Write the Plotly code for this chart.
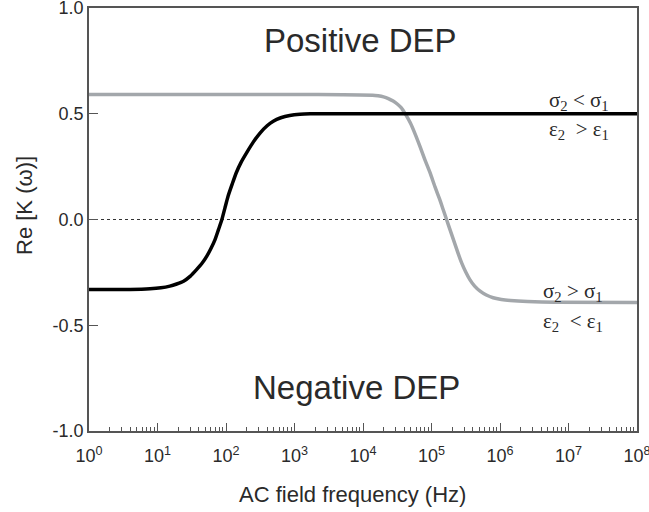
import plotly.graph_objects as go

# Log10(frequency / Hz) and Re[K(w)]
black_log_freq = [0.0, 0.6, 0.89, 1.05, 1.18, 1.28, 1.38, 1.48, 1.57, 1.65, 1.72, 1.78, 1.84, 1.89, 1.94,
                  1.985, 2.03, 2.09, 2.15, 2.22, 2.30, 2.40, 2.50, 2.60, 2.69, 2.80, 2.93, 3.08, 3.23, 4.0, 8.0]
black_re_k = [-0.331, -0.331, -0.328, -0.323, -0.315, -0.305, -0.292, -0.268, -0.237, -0.207, -0.173, -0.137,
              -0.095, -0.048, 0.0, 0.055, 0.110, 0.167, 0.221, 0.270, 0.315, 0.367, 0.410, 0.443, 0.465, 0.481,
              0.492, 0.498, 0.500, 0.500, 0.500]

gray_log_freq = [0.0, 2.0, 3.0, 3.7, 4.14, 4.22, 4.30, 4.37, 4.44, 4.50, 4.56, 4.62, 4.69, 4.76, 4.83, 4.90,
                 4.98, 5.05, 5.12, 5.17, 5.22, 5.27, 5.32, 5.38, 5.44, 5.50, 5.56, 5.63, 5.71, 5.80, 5.90, 6.02,
                 6.15, 6.4, 6.8, 8.0]
gray_re_k = [0.591, 0.591, 0.591, 0.590, 0.588, 0.585, 0.580, 0.572, 0.560, 0.546, 0.528, 0.498, 0.457, 0.405,
             0.347, 0.285, 0.220, 0.155, 0.095, 0.047, 0.0, -0.048, -0.095, -0.152, -0.205, -0.248, -0.284,
             -0.315, -0.339, -0.357, -0.370, -0.378, -0.383, -0.388, -0.391, -0.392]

x_tick_exponents = [0, 1, 2, 3, 4, 5, 6, 7, 8]
y_tick_vals = [1.0, 0.5, 0.0, -0.5, -1.0]
y_tick_text = ["1.0", "0.5", "0.0", "-0.5", "-1.0"]

black_freq = [10 ** e for e in black_log_freq]
gray_freq = [10 ** e for e in gray_log_freq]
x_tick_vals = [10 ** e for e in x_tick_exponents]
x_tick_text = ["10<sup>%d</sup>" % e for e in x_tick_exponents]
minor_vals = [k * 10 ** n for n in range(8) for k in range(2, 10)]

W, H = 649, 512
L, R, T, B = 89, 12, 8, 81
AX = "#555555"
TXT = "#2a2a2a"
FONT = "Liberation Sans"
SERIF = "Liberation Serif"

fig = go.Figure()
fig.add_trace(go.Scatter(x=[1, 1e8], y=[0, 0], mode="lines",
                         line=dict(color="#333333", width=1, dash="dot"),
                         hoverinfo="skip", showlegend=False))
fig.add_trace(go.Scatter(x=gray_freq, y=gray_re_k, mode="lines",
                         line=dict(color="#a3a7ab", width=3.5, shape="spline", smoothing=0.5),
                         showlegend=False))
fig.add_trace(go.Scatter(x=black_freq, y=black_re_k, mode="lines",
                         line=dict(color="#000000", width=3.5, shape="spline", smoothing=0.5),
                         showlegend=False))

fig.update_layout(
    width=W, height=H,
    margin=dict(l=L, r=R, t=T, b=B, autoexpand=False),
    paper_bgcolor="white", plot_bgcolor="white",
    font=dict(family=FONT, color=TXT, size=17),
    xaxis=dict(
        type="log", range=[0, 8], automargin=False,
        tickmode="array", tickvals=x_tick_vals, ticktext=x_tick_text,
        ticks="inside", ticklen=8, tickwidth=1, tickcolor=AX,
        minor=dict(tickvals=minor_vals, ticks="inside", ticklen=4, tickwidth=1, tickcolor=AX),
        showline=True, linecolor=AX, linewidth=1.5, mirror=True,
        showgrid=False, zeroline=False,
        tickfont=dict(size=18, color=TXT), ticklabelstandoff=8,
        ticklabeloverflow="allow",
    ),
    yaxis=dict(
        range=[-1.0, 1.0], automargin=False,
        tickmode="array", tickvals=y_tick_vals, ticktext=y_tick_text,
        ticks="inside", ticklen=9, tickwidth=1, tickcolor=AX,
        showline=True, linecolor=AX, linewidth=1.5, mirror=True,
        showgrid=False, zeroline=False,
        tickfont=dict(size=18, color=TXT), ticklabeloverflow="allow",
    ),
)

pw, ph = W - L - R, H - T - B


def px2paper(px, py):
    return (px - L) / pw, 1 - (py - T) / ph


annos = [
    dict(x=360, y=40, text="Positive DEP", size=33, family=FONT, angle=0),
    dict(x=356, y=387, text="Negative DEP", size=33, family=FONT, angle=0),
    dict(x=579, y=101, text="σ<sub>2</sub> &lt; σ<sub>1</sub>", size=21, family=SERIF, angle=0),
    dict(x=579, y=130, text="ε<sub>2</sub>  &gt; ε<sub>1</sub>", size=21, family=SERIF, angle=0),
    dict(x=573, y=292, text="σ<sub>2</sub> &gt; σ<sub>1</sub>", size=21, family=SERIF, angle=0),
    dict(x=573, y=322, text="ε<sub>2</sub>  &lt; ε<sub>1</sub>", size=21, family=SERIF, angle=0),
    dict(x=352, y=494, text="AC field frequency (Hz)", size=22, family=FONT, angle=0),
    dict(x=24, y=206, text="Re [K (ω)]", size=22, family=FONT, angle=-90),
]
for a in annos:
    ax, ay = px2paper(a["x"], a["y"])
    fig.add_annotation(
        x=ax, y=ay, xref="paper", yref="paper",
        xanchor="center", yanchor="middle", showarrow=False, textangle=a["angle"],
        text=a["text"], font=dict(size=a["size"], family=a["family"], color=TXT),
    )

fig.write_html("out.html")
